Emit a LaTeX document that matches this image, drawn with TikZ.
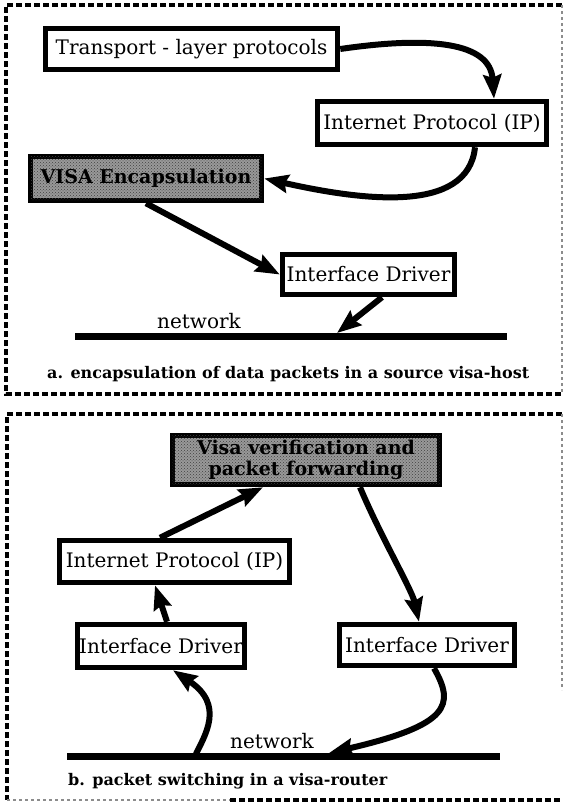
\documentclass[tikz,border=0pt]{standalone}
\usepackage{fontspec}
\setmainfont{DejaVu Serif}
\newfontfamily\boxfont{DejaVu Serif}
\newfontfamily\capfont{DejaVu Serif}
\usetikzlibrary{arrows.meta,patterns,calc}

\begin{document}
\begin{tikzpicture}[x=1pt,y=-1pt,
  box/.style={draw, line width=5.5pt, inner sep=0pt,
    font=\boxfont\fontsize{20}{21}\selectfont},
  shadedbox/.style={box, fill=black!40,
    postaction={pattern=crosshatch dots, pattern color=black!75},
    align=center, font=\boxfont\bfseries\fontsize{19}{21}\selectfont},
  flow/.style={line width=6pt,
    -{Stealth[length=24pt,width=18pt,inset=3pt]}},
  netline/.style={line width=7pt},
  netlabel/.style={anchor=base, inner sep=0pt,
    font=\boxfont\fontsize{20}{21}\selectfont},
  caption/.style={anchor=base west, inner sep=0pt,
    font=\capfont\bfseries\fontsize{16}{16}\selectfont},
  frame/.style={line width=3.5pt, dash pattern=on 6pt off 3pt},
  faintframe/.style={line width=1.5pt, draw=black!45, dash pattern=on 3pt off 3pt}
]
\useasboundingbox (0,0) rectangle (564,803);

% ---------------- a. source visa-host ----------------
\draw[frame] (562,5) -- (6,5) -- (6,394) -- (562,394);
\draw[faintframe] (562,5) -- (562,394);

\node[box, minimum width=292, minimum height=41] (tr) at (191.5,49)
  {Transport - layer protocols};
\node[box, minimum width=229, minimum height=43] (ipa) at (432,123)
  {Internet Protocol (IP)};
\node[shadedbox, minimum width=231, minimum height=44] (visa) at (146,178.5)
  {VISA Encapsulation};
\node[box, minimum width=172, minimum height=40] (ifa) at (368.5,274.5)
  {Interface Driver};

\coordinate (na1) at (75,336.5);
\coordinate (na2) at (507,336.5);
\coordinate (nain) at (337,333);
\draw[netline] (na1) -- (na2);
\node[netlabel] (nla) at (199,328) {network};

\draw[flow] (tr.east) .. controls (430,36) and (490,42) .. ([xshift=62pt]ipa.north);
\draw[flow] ([xshift=43pt]ipa.south) .. controls (468,215) and (360,200) .. (visa.east);
\draw[flow] (visa.south) -- (ifa.west);
\draw[flow] ([xshift=13.5pt]ifa.south) -- (nain);

\node[caption] (capa) at (47,378)
  {a. encapsulation of data packets in a source visa-host};

% ---------------- b. visa-router ----------------
\draw[frame] (562,414) -- (7,414) -- (7,800);
\draw[frame] (230,800) -- (562,800);
\draw[faintframe] (7,800) -- (230,800);
\draw[faintframe] (562,414) -- (562,690);

\node[shadedbox, minimum width=267, minimum height=49] (vv) at (306,460)
  {Visa verification and\\packet forwarding};
\node[box, minimum width=230, minimum height=42] (ipb) at (174.5,561.5)
  {Internet Protocol (IP)};
\node[box, minimum width=167, minimum height=43] (ifl) at (161,646)
  {Interface Driver};
\node[box, minimum width=175, minimum height=41] (ifr) at (427,645)
  {Interface Driver};

\coordinate (nb1) at (67,756.5);
\coordinate (nb2) at (500,756.5);
\coordinate (nbout) at (195,756);
\coordinate (nbin) at (329,753);
\draw[netline] (nb1) -- (nb2);
\node[netlabel] (nlb) at (272,748) {network};

\draw[flow] ([xshift=-14.5pt]ipb.north) -- ([xshift=-43pt]vv.south);
\draw[flow] ([xshift=54pt]vv.south) .. controls (380,535) and (412,590) .. ([xshift=-8pt]ifr.north);
\draw[flow] ([xshift=6pt]ifl.north) -- ([xshift=-19.5pt]ipb.south);
\draw[flow] (nbout) .. controls (205,735) and (225,705) .. ([xshift=12pt]ifl.south);
\draw[flow] ([xshift=7pt]ifr.south) .. controls (455,705) and (450,725) .. (nbin);

\node[caption] (capb) at (68,785) {b. packet switching in a visa-router};
\end{tikzpicture}
\end{document}
